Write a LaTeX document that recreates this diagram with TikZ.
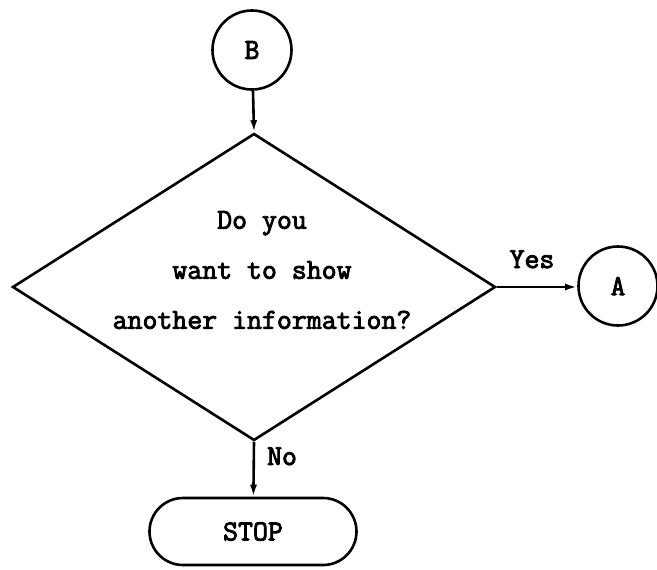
\documentclass[tikz,border=0pt]{standalone}
\usepackage{fontspec}
\newfontfamily\typewriter{Latin Modern Mono}[FakeBold=3]
\usetikzlibrary{shapes.geometric,shapes.misc,arrows.meta}
\begin{document}
\begin{tikzpicture}[x=1pt,y=-1pt,
  stroke/.style={line width=2.6pt},
  flow/.style={stroke,-{Latex[length=12pt,width=7pt]}},
  typed/.style={font=\typewriter\fontsize{29}{50}\selectfont},
  connector/.style={circle,draw,stroke,minimum size=79pt,inner sep=0pt,typed},
  decision/.style={diamond,draw,stroke,minimum width=483pt,minimum height=307pt,inner sep=0pt},
  terminal/.style={rounded rectangle,draw,stroke,minimum width=207pt,minimum height=67pt,inner sep=0pt,typed},
  caption/.style={typed,inner sep=0pt}
]
\useasboundingbox (0,0) rectangle (657,570);

% off-page connectors
\node[connector] (b) at (252,50) {B};
\node[connector] (a) at (618,286) {A};

% decision and its question
\node[decision] (q) at (254,287) {};
\node[caption,align=center] (qtext) at (262,270) {Do you\\want to show\\another information?};

% end of the routine
\node[terminal] (stop) at (253,531.5) {STOP};

% flow lines
\draw[flow] (b) -- (q.north);
\draw[flow] (q.east) -- (q.east -| a.west);
\draw[flow] (q.south) -- (stop);

% branch labels
\node[caption,anchor=base] (yes) at (532,268) {Yes};
\node[caption,anchor=base] (no) at (282,465) {No};
\end{tikzpicture}
\end{document}
